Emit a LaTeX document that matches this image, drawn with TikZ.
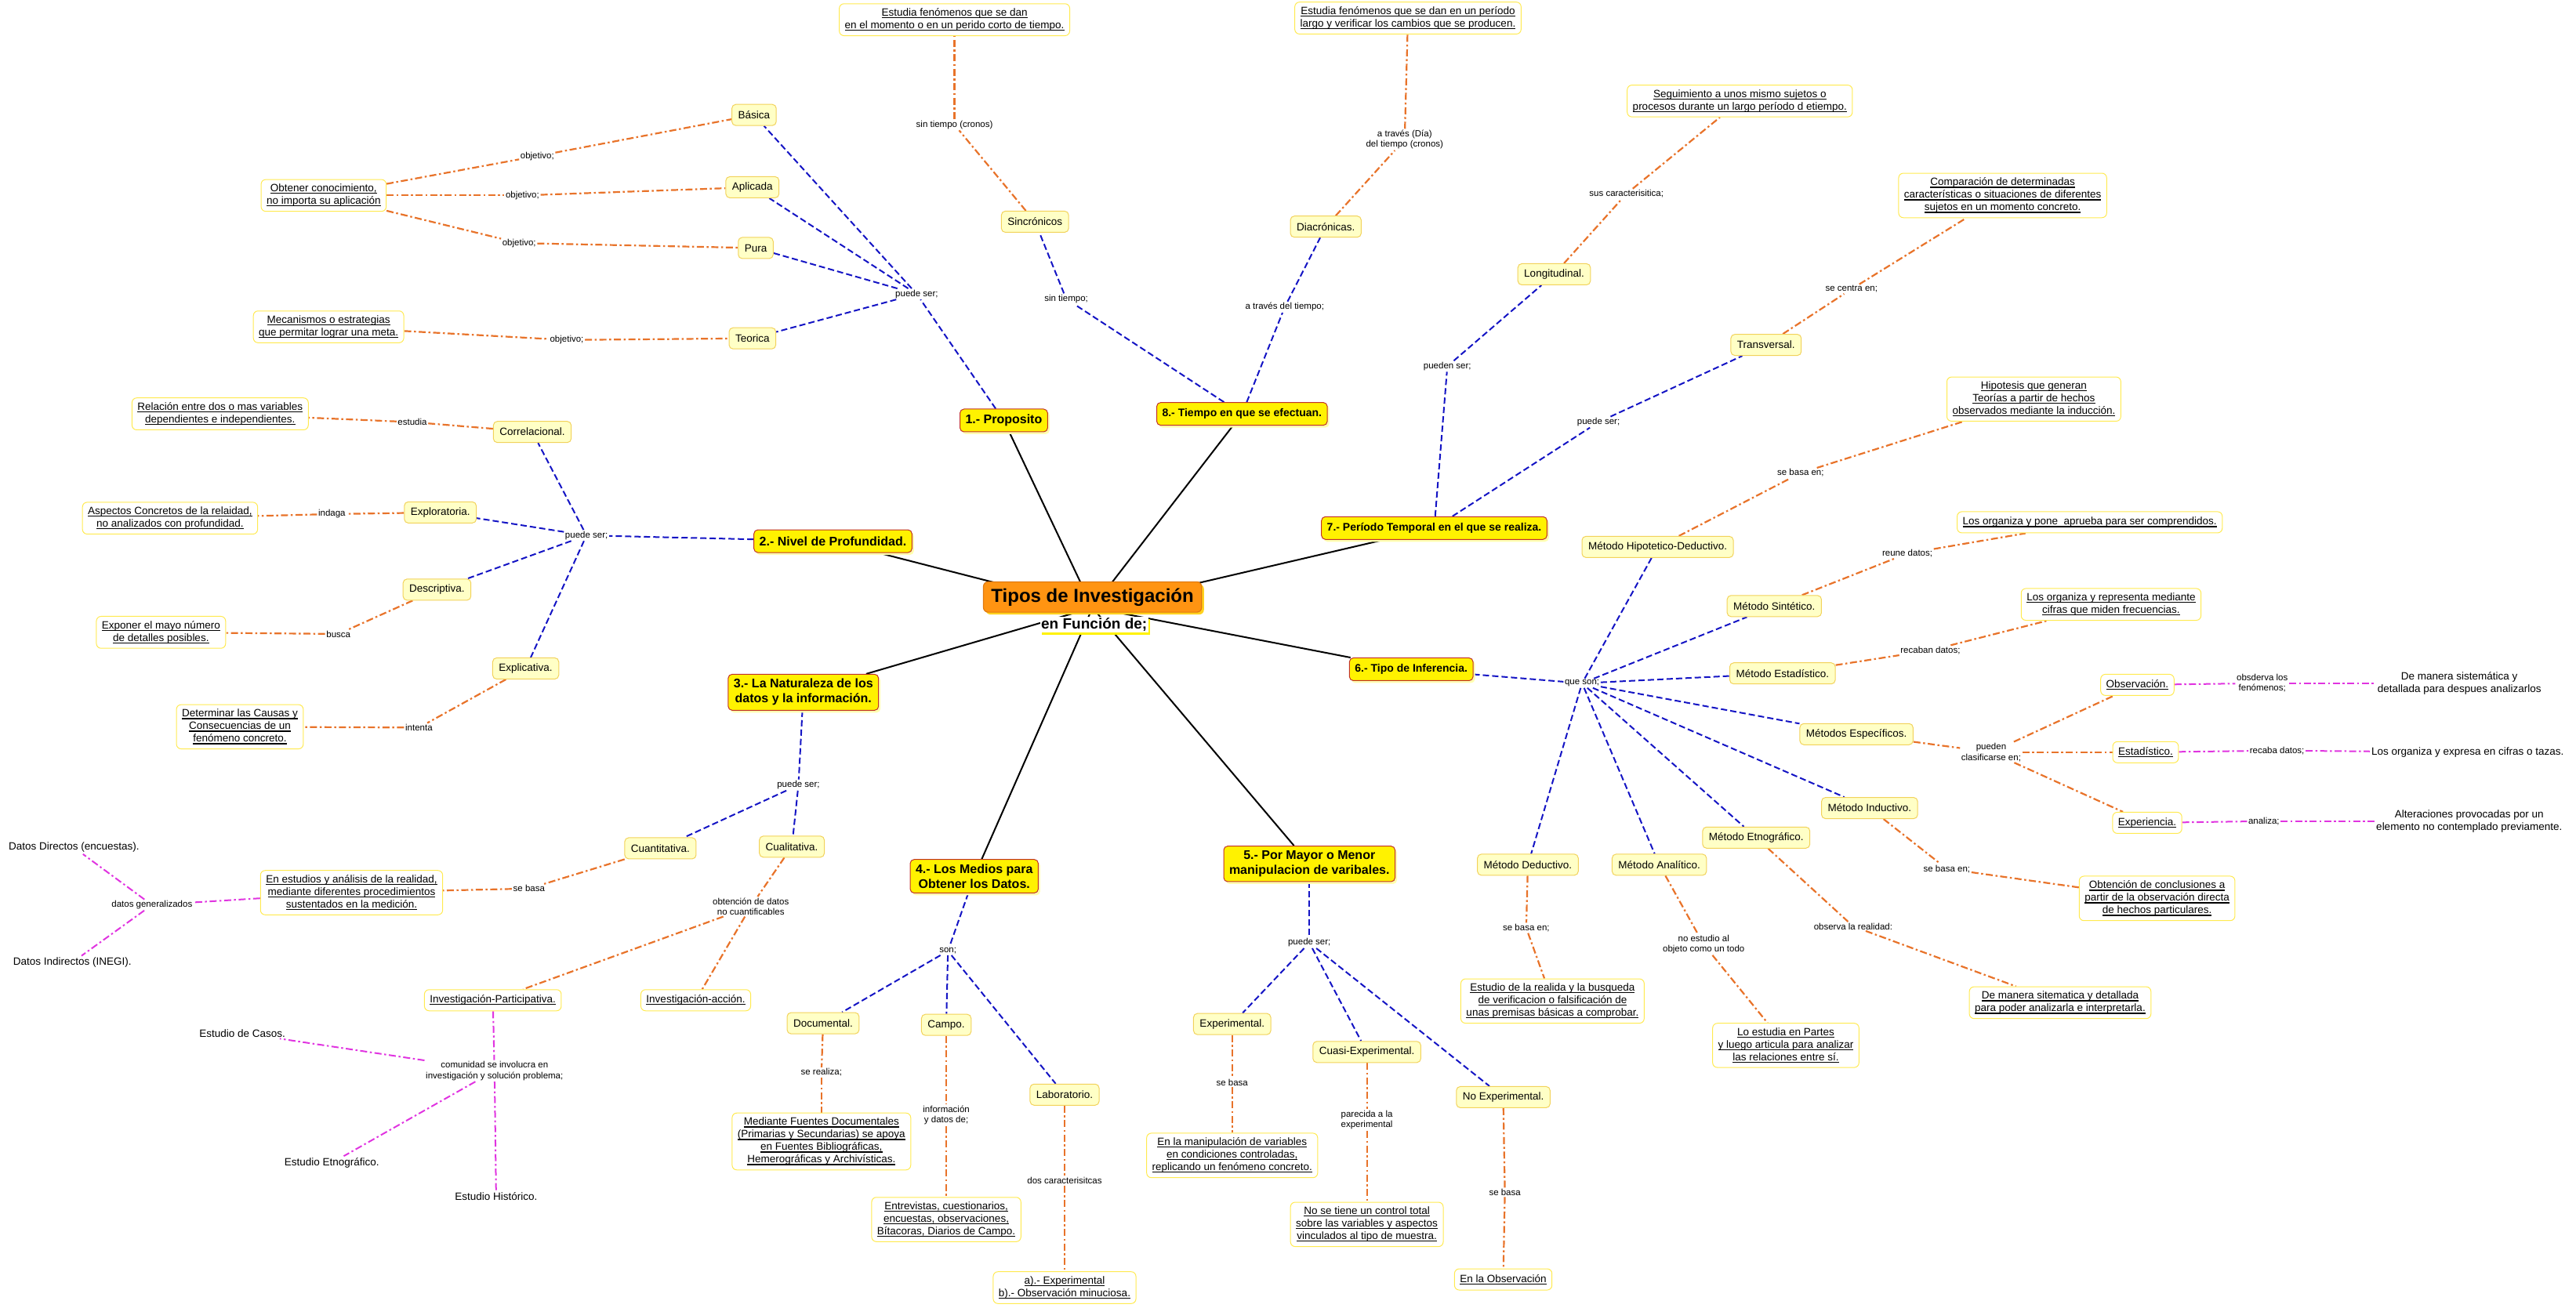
\documentclass[tikz,border=0pt]{standalone}
\usepackage{fontspec}
\setmainfont{Liberation Sans}
\usetikzlibrary{shadows}
\definecolor{cOrange}{HTML}{FF9412}
\definecolor{cOrangeD}{HTML}{E07A10}
\definecolor{cShadowC}{HTML}{FFD21E}
\definecolor{cMainB}{HTML}{C0302A}
\definecolor{cMainS}{HTML}{FFFFB0}
\definecolor{cConF}{HTML}{FFFFC6}
\definecolor{cConB}{HTML}{F2D25A}
\definecolor{cDetB}{HTML}{FFEA50}
\definecolor{cBlue}{HTML}{1414C4}
\definecolor{cOrg}{HTML}{E8732A}
\definecolor{cMag}{HTML}{E034E0}
\pgfdeclarelayer{bg}
\pgfsetlayers{bg,main}
\newcommand\uln[1]{\leavevmode\setbox0\hbox{#1}\rlap{\rule[-2.6pt]{\wd0}{1.1pt}}\box0}
\newcommand\cnx[4]{\draw[#1] (#2) -- (#3);\draw[#1] (#3) -- (#4);}
\begin{document}
\begin{tikzpicture}[x=2.0957pt,y=-2.0957pt,
central/.style={draw=cOrangeD, line width=1.2pt, fill=cOrange, rounded corners=6pt, inner xsep=10pt, inner ysep=8pt, font=\fontsize{24}{28}\selectfont\bfseries, drop shadow={shadow xshift=3pt, shadow yshift=-3pt, fill=cShadowC, opacity=1}},
subt/.style={fill=white, inner sep=1.5pt, font=\fontsize{19}{22}\selectfont\bfseries, drop shadow={shadow xshift=2pt, shadow yshift=-3pt, fill=yellow, opacity=1}},
mainbox/.style={draw=cMainB, line width=1pt, fill=yellow, rounded corners=5pt, align=center, inner xsep=7pt, inner ysep=6pt, minimum height=29pt, font=\fontsize{14}{17}\selectfont\bfseries, drop shadow={shadow xshift=2.5pt, shadow yshift=-3pt, fill=cMainS, opacity=1}},
mainbig/.style={mainbox, font=\fontsize{16}{19}\selectfont\bfseries},
concept/.style={draw=cConB, line width=1pt, fill=cConF, rounded corners=5pt, align=center, inner xsep=8pt, inner ysep=5pt, minimum height=27pt, font=\fontsize{13.5}{16}\selectfont},
detail/.style={draw=cDetB, line width=1pt, fill=white, rounded corners=6pt, align=center, inner xsep=7pt, inner ysep=6pt, minimum height=27pt, font=\fontsize{13.5}{16}\selectfont},
plain/.style={align=center, inner sep=2pt, font=\fontsize{13.5}{16}\selectfont},
lbl/.style={align=center, inner sep=1.5pt, font=\fontsize{11.5}{13.5}\selectfont},
blu/.style={draw=cBlue, line width=2pt, dash pattern=on 8pt off 4pt},
org/.style={draw=cOrg, line width=2.2pt, dash pattern=on 9pt off 3.5pt on 2.5pt off 3.5pt},
mag/.style={draw=cMag, line width=2pt, dash pattern=on 9pt off 3.5pt on 2.5pt off 3.5pt},
blk/.style={draw=black, line width=2pt}]
\useasboundingbox (0,0) rectangle (1568,796);
% central
\coordinate (hub) at (665,370);
\node[central] (cen) at (665,363.5) {Tipos de Investigación};
\node[subt] (fun) at (666,380.5) {en Función de;};
% main boxes
\node[mainbig] (m1) at (611,256) {1.- Proposito};
\node[mainbig] (m2) at (507,329.5) {2.- Nivel de Profundidad.};
\node[mainbig] (m3) at (489,421.5) {3.- La Naturaleza de los\\datos y la información.};
\node[mainbig] (m4) at (593,533.5) {4.- Los Medios para\\Obtener los Datos.};
\node[mainbig] (m5) at (797,526) {5.- Por Mayor o Menor\\manipulacion de varibales.};
\node[mainbox] (m6) at (859,407.5) {6.- Tipo de Inferencia.};
\node[mainbox] (m7) at (873,321.5) {7.- Período Temporal en el que se realiza.};
\node[mainbox] (m8) at (756,252) {8.- Tiempo en que se efectuan.};
% concepts
\node[concept] (cBasica) at (459,70) {Básica};
\node[concept] (cAplic) at (458,114) {Aplicada};
\node[concept] (cPura) at (460,151) {Pura};
\node[concept] (cTeor) at (458,206) {Teorica};
\node[concept] (cSinc) at (630,135) {Sincrónicos};
\node[concept] (cDiac) at (807,138) {Diacrónicas.};
\node[concept] (cLong) at (946,167) {Longitudinal.};
\node[concept] (cTrans) at (1075,210) {Transversal.};
\node[concept] (cHipo) at (1009,333) {Método Hipotetico-Deductivo.};
\node[concept] (cSint) at (1080,369) {Método Sintético.};
\node[concept] (cEsta) at (1085,410) {Método Estadístico.};
\node[concept] (cEspe) at (1130,447) {Métodos Específicos.};
\node[concept] (cInduc) at (1138,492) {Método Inductivo.};
\node[concept] (cEtno) at (1069,510) {Método Etnográfico.};
\node[concept] (cDeduc) at (930,526.5) {Método Deductivo.};
\node[concept] (cAnal) at (1010,526.5) {Método Analítico.};
\node[detail] (cObs) at (1301,417) {\uln{Observación.}};
\node[detail] (cEst) at (1306,458) {\uln{Estadístico.}};
\node[detail] (cExp) at (1307,501) {\uln{Experiencia.}};
\node[concept] (cCorr) at (324,263) {Correlacional.};
\node[concept] (cExplo) at (268,312) {Exploratoria.};
\node[concept] (cDesc) at (266,359) {Descriptiva.};
\node[concept] (cExpli) at (320,407) {Explicativa.};
\node[concept] (cCuant) at (402,516.5) {Cuantitativa.};
\node[concept] (cCual) at (482,515.5) {Cualitativa.};
\node[detail] (cIP) at (300,609) {\uln{Investigación-Participativa.}};
\node[detail] (cIA) at (423.5,609) {\uln{Investigación-acción.}};
\node[concept] (cDoc) at (501,623) {Documental.};
\node[concept] (cCampo) at (576,624) {Campo.};
\node[concept] (cLab) at (648,666.5) {Laboratorio.};
\node[concept] (cExpe) at (750,623.5) {Experimental.};
\node[concept] (cCuasi) at (832,640.5) {Cuasi-Experimental.};
\node[concept] (cNoexp) at (915,668) {No Experimental.};
% details
\node[detail] (dObt) at (197,119) {\uln{Obtener conocimiento,}\\\uln{no importa su aplicación}};
\node[detail] (dMec) at (200,199) {\uln{Mecanismos o estrategias}\\\uln{que permitar lograr una meta.}};
\node[detail] (dTopA) at (581,12) {\uln{Estudia fenómenos que se dan}\\\uln{en el momento o en un perido corto de tiempo.}};
\node[detail] (dTopB) at (857,11) {\uln{Estudia fenómenos que se dan en un período}\\\uln{largo y verificar los cambios que se producen.}};
\node[detail] (dSeg) at (1059,61.5) {\uln{Seguimiento a unos mismo sujetos o}\\\uln{procesos durante un largo período d etiempo.}};
\node[detail] (dComp) at (1219,119) {\uln{Comparación de determinadas}\\\uln{características o situaciones de diferentes}\\\uln{sujetos en un momento concreto.}};
\node[detail] (dHip) at (1238,243) {\uln{Hipotesis que generan}\\\uln{Teorías a partir de hechos}\\\uln{observados mediante la inducción.}};
\node[detail] (dPone) at (1272,318) {\uln{Los organiza y pone\ \ aprueba para ser comprendidos.}};
\node[detail] (dRepr) at (1285,368) {\uln{Los organiza y representa mediante}\\\uln{cifras que miden frecuencias.}};
\node[detail] (dConcl) at (1313,547) {\uln{Obtención de conclusiones a}\\\uln{partir de la observación directa}\\\uln{de hechos particulares.}};
\node[detail] (dSitem) at (1254,610.5) {\uln{De manera sitematica y detallada}\\\uln{para poder analizarla e interpretarla.}};
\node[detail] (dPartes) at (1087,636.5) {\uln{Lo estudia en Partes}\\\uln{y luego articula para analizar}\\\uln{las relaciones entre sí.}};
\node[detail] (dReal) at (945,609.5) {\uln{Estudio de la realida y la busqueda}\\\uln{de verificacion o falsificación de}\\\uln{unas premisas básicas a comprobar.}};
\node[detail] (dEnobs) at (915,779) {\uln{En la Observación}};
\node[detail] (dManip) at (750,703.5) {\uln{En la manipulación de variables}\\\uln{en condiciones controladas,}\\\uln{replicando un fenómeno concreto.}};
\node[detail] (dNotiene) at (832,745.5) {\uln{No se tiene un control total}\\\uln{sobre las variables y aspectos}\\\uln{vinculados al tipo de muestra.}};
\node[detail] (dAB) at (648,784) {\uln{a).- Experimental}\\\uln{b).- Observación minuciosa.}};
\node[detail] (dEntrev) at (576,742.5) {\uln{Entrevistas, cuestionarios,}\\\uln{encuestas, observaciones,}\\\uln{Bítacoras, Diarios de Campo.}};
\node[detail] (dMedi) at (500,695) {\uln{Mediante Fuentes Documentales}\\\uln{(Primarias y Secundarias) se apoya}\\\uln{en Fuentes Bibliográficas,}\\\uln{Hemerográficas y Archivísticas.}};
\node[detail] (dEstud) at (214,543.5) {\uln{En estudios y análisis de la realidad,}\\\uln{mediante diferentes procedimientos}\\\uln{sustentados en la medición.}};
\node[detail] (dRel) at (134,252) {\uln{Relación entre dos o mas variables}\\\uln{dependientes e independientes.}};
\node[detail] (dAsp) at (103.5,315.5) {\uln{Aspectos Concretos de la relaidad,}\\\uln{no analizados con profundidad.}};
\node[detail] (dExpo) at (98,385) {\uln{Exponer el mayo número}\\\uln{de detalles posibles.}};
\node[detail] (dDet) at (146,442.5) {\uln{Determinar las Causas y}\\\uln{Consecuencias de un}\\\uln{fenómeno concreto.}};
% plain texts
\node[plain] (pSist) at (1497,416) {De manera sistemática y\\detallada para despues analizarlos};
\node[plain] (pCifras) at (1502,458) {Los organiza y expresa en cifras o tazas.};
\node[plain] (pAlter) at (1503,500) {Alteraciones provocadas por un\\elemento no contemplado previamente.};
\node[plain] (pDD) at (45,516) {Datos Directos (encuestas).};
\node[plain] (pDI) at (44,586) {Datos Indirectos (INEGI).};
\node[plain] (pCasos) at (147.5,629) {Estudio de Casos.};
\node[plain] (pEtno) at (202,708) {Estudio Etnográfico.};
\node[plain] (pHist) at (302,728.5) {Estudio Histórico.};
% labels
\node[lbl] (l1a) at (327,95) {objetivo;};
\node[lbl] (l1b) at (318,119) {objetivo;};
\node[lbl] (l1c) at (316,148) {objetivo;};
\node[lbl] (l1d) at (345,207) {objetivo;};
\node[lbl] (l1) at (558,179) {puede ser;};
\node[lbl] (l8a) at (649,182) {sin tiempo;};
\node[lbl] (l8b) at (782,187) {a través del tiempo;};
\node[lbl] (l8c) at (581,76) {sin tiempo (cronos)};
\node[lbl] (l8d) at (855,85) {a través (Día)\\del tiempo (cronos)};
\node[lbl] (l7a) at (881,223) {pueden ser;};
\node[lbl] (l7b) at (973,257) {puede ser;};
\node[lbl] (l7c) at (990,118) {sus caracterisitica;};
\node[lbl] (l7d) at (1127,176) {se centra en;};
\node[lbl] (l6) at (963,416) {que son;};
\node[lbl] (l6a) at (1096,288) {se basa en;};
\node[lbl] (l6b) at (1161,337) {reune datos;};
\node[lbl] (l6c) at (1175,396) {recaban datos;};
\node[lbl] (l6d) at (1212,458) {pueden\\clasificarse en;};
\node[lbl] (l6e) at (1377,416) {obsderva los\\fenómenos;};
\node[lbl] (l6f) at (1386,457) {recaba datos;};
\node[lbl] (l6g) at (1378,500) {analiza;};
\node[lbl] (l6h) at (1185,529) {se basa en;};
\node[lbl] (l6i) at (1128,564) {observa la realidad:};
\node[lbl] (l6j) at (1037,575) {no estudio al\\objeto como un todo};
\node[lbl] (l6k) at (929,565) {se basa en;};
\node[lbl] (l5) at (797,574) {puede ser;};
\node[lbl] (l5a) at (750,659) {se basa};
\node[lbl] (l5b) at (832,682) {parecida a la\\experimental};
\node[lbl] (l5c) at (916,726) {se basa};
\node[lbl] (l4) at (577,579) {son;};
\node[lbl] (l4a) at (500,653) {se realiza;};
\node[lbl] (l4b) at (576,679) {información\\y datos de;};
\node[lbl] (l4c) at (648,719) {dos caracterisitcas};
\node[lbl] (l3) at (486,478) {puede ser;};
\node[lbl] (l3a) at (322,541) {se basa};
\node[lbl] (l3b) at (92.5,551) {datos generalizados};
\node[lbl] (l3c) at (457,552) {obtención de datos\\no cuantificables};
\node[lbl] (l3d) at (301,652) {comunidad se involucra en\\investigación y solución problema;};
\node[lbl] (l2) at (357,326) {puede ser;};
\node[lbl] (l2a) at (251,257) {estudia};
\node[lbl] (l2b) at (202,313) {indaga};
\node[lbl] (l2c) at (206,386) {busca};
\node[lbl] (l2d) at (255,443) {intenta};
% connectors
\begin{pgfonlayer}{bg}
\foreach \m in {m1,m2,m3,m4,m5,m6,m7,m8} \draw[blk] (hub) -- (\m);
% 1
\draw[blu] (m1) -- (l1);
\foreach \t in {cBasica,cAplic,cPura,cTeor} \draw[blu] (l1) -- (\t);
\cnx{org}{dObt}{l1a}{cBasica}
\cnx{org}{dObt}{l1b}{cAplic}
\cnx{org}{dObt}{l1c}{cPura}
\cnx{org}{dMec}{l1d}{cTeor}
% 8
\cnx{blu}{m8}{l8a}{cSinc}
\cnx{blu}{m8}{l8b}{cDiac}
\cnx{org}{cSinc}{l8c}{dTopA}
\cnx{org}{cDiac}{l8d}{dTopB}
% 7
\cnx{blu}{m7}{l7a}{cLong}
\cnx{blu}{m7}{l7b}{cTrans}
\cnx{org}{cLong}{l7c}{dSeg}
\cnx{org}{cTrans}{l7d}{dComp}
% 6
\draw[blu] (m6) -- (l6);
\foreach \t in {cHipo,cSint,cEsta,cEspe,cInduc,cEtno,cDeduc,cAnal} \draw[blu] (l6) -- (\t);
\cnx{org}{cHipo}{l6a}{dHip}
\cnx{org}{cSint}{l6b}{dPone}
\cnx{org}{cEsta}{l6c}{dRepr}
\draw[org] (cEspe) -- (l6d);
\foreach \t in {cObs,cEst,cExp} \draw[org] (l6d) -- (\t);
\cnx{mag}{cObs}{l6e}{pSist}
\cnx{mag}{cEst}{l6f}{pCifras}
\cnx{mag}{cExp}{l6g}{pAlter}
\cnx{org}{cInduc}{l6h}{dConcl}
\cnx{org}{cEtno}{l6i}{dSitem}
\cnx{org}{cAnal}{l6j}{dPartes}
\cnx{org}{cDeduc}{l6k}{dReal}
% 5
\draw[blu] (m5) -- (l5);
\foreach \t in {cExpe,cCuasi,cNoexp} \draw[blu] (l5) -- (\t);
\cnx{org}{cExpe}{l5a}{dManip}
\cnx{org}{cCuasi}{l5b}{dNotiene}
\cnx{org}{cNoexp}{l5c}{dEnobs}
% 4
\draw[blu] (m4) -- (l4);
\foreach \t in {cDoc,cCampo,cLab} \draw[blu] (l4) -- (\t);
\cnx{org}{cDoc}{l4a}{dMedi}
\cnx{org}{cCampo}{l4b}{dEntrev}
\cnx{org}{cLab}{l4c}{dAB}
% 3
\draw[blu] (m3) -- (l3);
\foreach \t in {cCuant,cCual} \draw[blu] (l3) -- (\t);
\cnx{org}{cCuant}{l3a}{dEstud}
\draw[mag] (dEstud) -- (l3b);
\foreach \t in {pDD,pDI} \draw[mag] (l3b) -- (\t);
\draw[org] (cCual) -- (l3c);
\foreach \t in {cIP,cIA} \draw[org] (l3c) -- (\t);
\draw[mag] (cIP) -- (l3d);
\foreach \t in {pCasos,pEtno,pHist} \draw[mag] (l3d) -- (\t);
% 2
\draw[blu] (m2) -- (l2);
\foreach \t in {cCorr,cExplo,cDesc,cExpli} \draw[blu] (l2) -- (\t);
\cnx{org}{cCorr}{l2a}{dRel}
\cnx{org}{cExplo}{l2b}{dAsp}
\cnx{org}{cDesc}{l2c}{dExpo}
\cnx{org}{cExpli}{l2d}{dDet}
\end{pgfonlayer}
\end{tikzpicture}
\end{document}
